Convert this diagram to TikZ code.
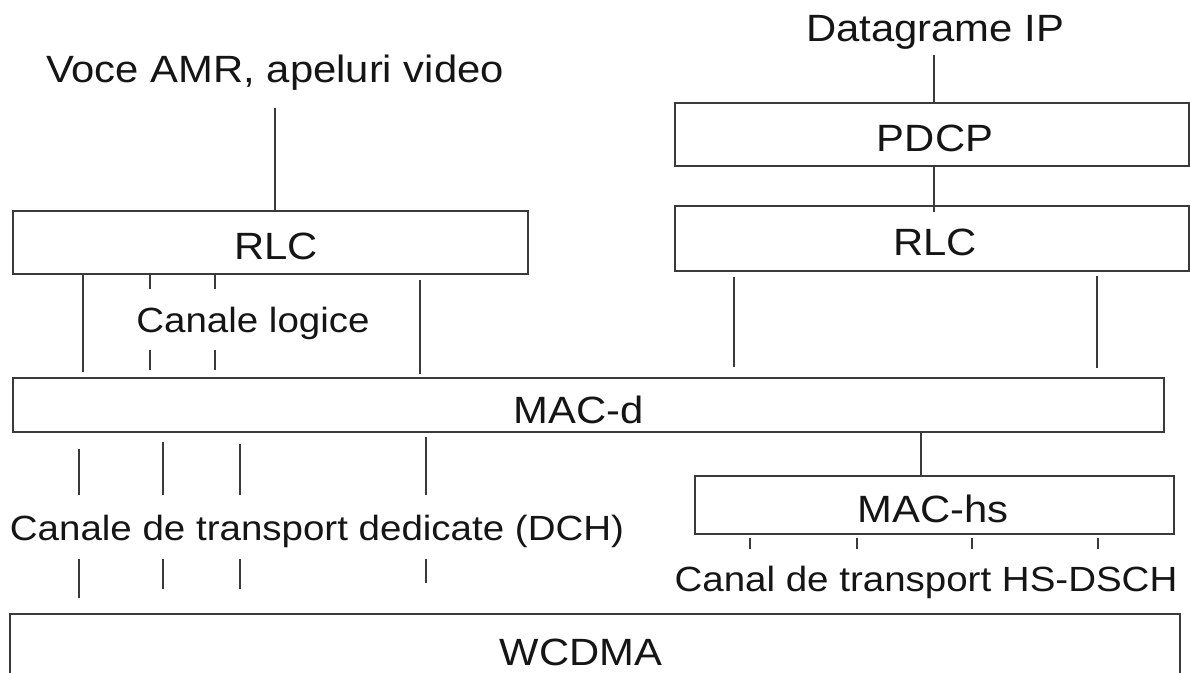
\documentclass[tikz,border=0pt]{standalone}
\usepackage{fontspec}
\setmainfont{Liberation Sans}[FakeStretch=1.1]
\usetikzlibrary{calc}
\definecolor{ln}{HTML}{3A3A3A}
\definecolor{tx}{HTML}{151515}
\tikzset{
  box/.style={draw=ln, line width=2pt, inner sep=0pt, anchor=north west},
  conn/.style={draw=ln, line width=1.5pt},
  tick/.style={draw=ln, line width=1.3pt},
  lbl/.style={text=tx, inner sep=0pt, anchor=base, font=\fontsize{38}{44}\selectfont},
  chl/.style={text=tx, inner sep=0pt, anchor=base, font=\fontsize{35}{41}\selectfont},
}
\begin{document}
\begin{tikzpicture}[x=1pt,y=-1pt]
\useasboundingbox (0,0) rectangle (1190,672);
\clip (0,0) rectangle (1190,672);

% boxes
\node[box, minimum width=515pt,  minimum height=63pt] (rlcL)  at (12,210) {};
\node[box, minimum width=1151pt, minimum height=54pt] (macd)  at (12,377) {};
\node[box, minimum width=1170pt, minimum height=80pt] (wcdma) at (9,613) {};
\node[box, minimum width=514pt,  minimum height=63pt] (pdcp)  at (674,102) {};
\node[box, minimum width=514pt,  minimum height=65pt] (rlcR)  at (674,205) {};
\node[box, minimum width=479pt,  minimum height=58pt] (machs) at (694,475) {};

% labels
\node[lbl] (voce)   at (275,82)  {Voce AMR, apeluri video};
\node[lbl] (rlcLt)  at (276,259) {RLC};
\node[chl] (logice) at (253,332) {Canale logice};
\node[lbl] (macdt)  at (579,423) {MAC-d};
\node[chl] (dch)    at (317,540) {Canale de transport dedicate (DCH)};
\node[lbl] (wcdmat) at (581,665) {WCDMA};
\node[lbl] (dg)     at (935,41)  {Datagrame IP};
\node[lbl] (pdcpt)  at (935,151) {PDCP};
\node[lbl] (rlcRt)  at (935,255) {RLC};
\node[lbl] (machst) at (933,522) {MAC-hs};
\node[chl] (hsd)    at (926,591) {Canal de transport HS-DSCH};

% x positions of channel lines
\coordinate (a1) at (83,0);
\coordinate (a2) at (150,0);
\coordinate (a3) at (215,0);
\coordinate (a4) at (420,0);
\coordinate (b1) at (79,0);
\coordinate (b2) at (163,0);
\coordinate (b3) at (240,0);
\coordinate (b4) at (426,0);
\coordinate (r1) at (734,0);
\coordinate (r2) at (1097,0);
\coordinate (m0) at (921,0);
\coordinate (h1) at (750,0);
\coordinate (h2) at (857,0);
\coordinate (h3) at (972,0);
\coordinate (h4) at (1098,0);
\coordinate (p0) at (934,0);

% left stack
\draw[conn] ($(voce.base)+(0,26)$) -- (rlcL.north -| voce.base);
\draw[conn] (rlcL.south -| a1) -- ++(0,97);
\draw[conn] (rlcL.south -| a2) -- ++(0,14);
\draw[conn] (rlcL.south -| a3) -- ++(0,14);
\draw[conn] ($(macd.north -| a2)+(0,-27)$) -- ++(0,20);
\draw[conn] ($(macd.north -| a3)+(0,-27)$) -- ++(0,20);
\draw[conn] ($(rlcL.south -| a4)+(0,5)$) -- ++(0,94);

\draw[conn] ($(macd.south -| b1)+(0,16)$) -- ++(0,46);
\draw[conn] ($(macd.south -| b2)+(0,9)$)  -- ++(0,53);
\draw[conn] ($(macd.south -| b3)+(0,11)$) -- ++(0,51);
\draw[conn] ($(macd.south -| b4)+(0,4)$)  -- ++(0,58);

\draw[conn] ($(wcdma.north -| b1)+(0,-54)$) -- ++(0,39);
\draw[conn] ($(wcdma.north -| b2)+(0,-54)$) -- ++(0,30);
\draw[conn] ($(wcdma.north -| b3)+(0,-54)$) -- ++(0,30);
\draw[conn] ($(wcdma.north -| b4)+(0,-54)$) -- ++(0,24);

% right stack
\draw[conn] ($(dg.base -| p0)+(0,14)$) -- (pdcp.north -| p0);
\draw[conn] (pdcp.south -| p0) -- ($(rlcR.north -| p0)+(0,7)$);
\draw[conn] ($(rlcR.south -| r1)+(0,5)$) -- ++(0,90);
\draw[conn] ($(rlcR.south -| r2)+(0,4)$) -- ++(0,92);
\draw[conn] (macd.south -| m0) -- (machs.north -| m0);
\foreach \h in {h1,h2,h3,h4} {
  \draw[tick] ($(machs.south -| \h)+(0,3)$) -- ++(0,11);
}
\end{tikzpicture}
\end{document}
